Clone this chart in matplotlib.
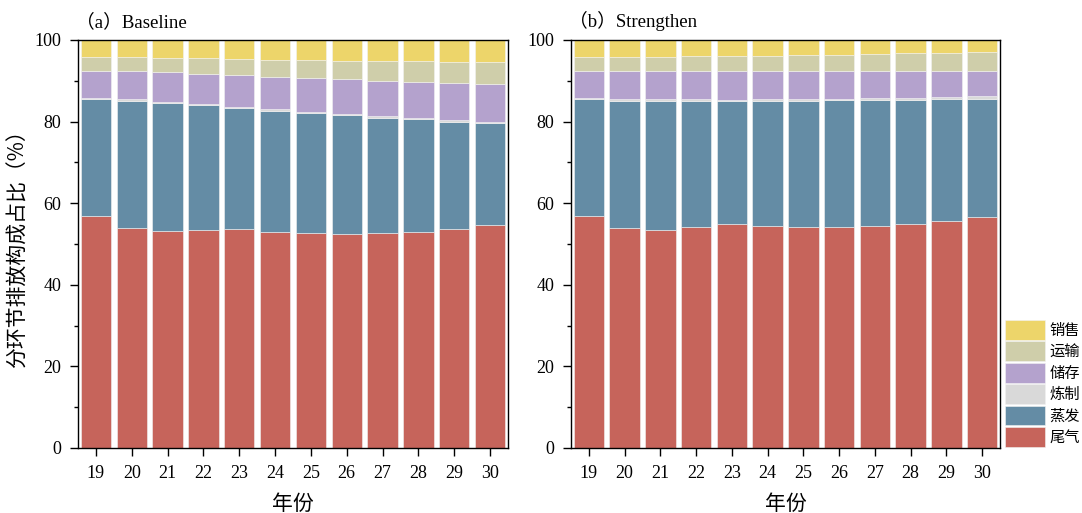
import numpy as np
import matplotlib
matplotlib.use("Agg")
import matplotlib.pyplot as plt
from matplotlib.ticker import MultipleLocator

# ── Data (percent share by stage) ────────────────────────────────
years = [19, 20, 21, 22, 23, 24, 25, 26, 27, 28, 29, 30]
categories = ["尾气", "蒸发", "炼制", "储存", "运输", "销售"]
colors = ["#C6645B", "#648CA5", "#D9D9D9", "#B4A2CD", "#CFCEAA", "#EDD56A"]

base_tail      = [56.9, 54.0, 53.1, 53.4, 53.6, 53.0, 52.6, 52.4, 52.6, 53.0, 53.7, 54.7]
base_evap      = [28.6, 31.1, 31.4, 30.6, 29.7, 29.7, 29.4, 29.1, 28.4, 27.6, 26.3, 24.9]
base_refine    = [0.4, 0.4, 0.4, 0.4, 0.4, 0.4, 0.4, 0.4, 0.4, 0.4, 0.4, 0.4]
base_storage   = [6.6, 6.9, 7.2, 7.3, 7.6, 7.9, 8.3, 8.5, 8.6, 8.8, 9.1, 9.2]
base_transport = [3.3, 3.4, 3.6, 3.8, 4.0, 4.2, 4.3, 4.5, 4.9, 5.0, 5.2, 5.4]
base_sales     = [4.2, 4.2, 4.3, 4.5, 4.7, 4.8, 5.0, 5.1, 5.1, 5.2, 5.3, 5.4]

str_tail      = [56.9, 54.0, 53.4, 54.2, 54.9, 54.5, 54.2, 54.1, 54.4, 54.9, 55.6, 56.7]
str_evap      = [28.6, 31.1, 31.7, 30.9, 30.1, 30.6, 30.9, 31.1, 30.9, 30.5, 29.9, 28.9]
str_refine    = [0.4, 0.4, 0.4, 0.4, 0.4, 0.4, 0.4, 0.4, 0.5, 0.5, 0.6, 0.6]
str_storage   = [6.6, 6.9, 6.9, 6.9, 7.0, 6.9, 6.9, 6.8, 6.6, 6.5, 6.3, 6.1]
str_transport = [3.3, 3.4, 3.4, 3.6, 3.7, 3.8, 3.9, 4.0, 4.2, 4.4, 4.5, 4.7]
str_sales     = [4.2, 4.2, 4.2, 4.0, 3.9, 3.8, 3.7, 3.6, 3.4, 3.2, 3.1, 3.0]

panels = [
    ("（a）Baseline", [base_tail, base_evap, base_refine, base_storage, base_transport, base_sales]),
    ("（b）Strengthen", [str_tail, str_evap, str_refine, str_storage, str_transport, str_sales]),
]

SERIF = ["Liberation Serif", "Noto Sans CJK SC"]
CJK = ["Noto Sans CJK SC", "DejaVu Sans"]

fig = plt.figure(figsize=(10.82, 5.13), dpi=100)
ax_l = fig.add_axes([78 / 1082, 65 / 513, 430 / 1082, 408 / 513])
ax_r = fig.add_axes([571 / 1082, 65 / 513, 429 / 1082, 408 / 513])

handles = []
for ax, (title, series) in zip((ax_l, ax_r), panels):
    bottom = np.zeros(len(years))
    handles = []
    for vals, col, name in zip(series, colors, categories):
        b = ax.bar(years, vals, width=0.85, bottom=bottom, color=col,
                   edgecolor="#f2f2f2", linewidth=0.4, label=name)
        handles.append(b)
        bottom += np.array(vals)

    ax.set_xlim(18.5, 30.5)
    ax.set_ylim(0, 100)
    ax.set_xticks(years)
    ax.set_xticklabels([str(y) for y in years])
    ax.yaxis.set_major_locator(MultipleLocator(20))
    ax.yaxis.set_minor_locator(MultipleLocator(10))
    ax.tick_params(axis="both", which="major", direction="out", length=6,
                   width=1.0, labelsize=13, pad=6)
    ax.tick_params(axis="y", which="minor", direction="out", length=3, width=1.0)
    for lab in ax.get_xticklabels() + ax.get_yticklabels():
        lab.set_family(SERIF)
    for sp in ax.spines.values():
        sp.set_linewidth(1.0)
    ax.text(-0.005, 1.022, title, transform=ax.transAxes, ha="left", va="bottom",
            fontsize=13.5, family=SERIF)
    ax.set_xlabel("年份", family=CJK, fontsize=15, labelpad=8)

ax_l.set_ylabel("分环节排放构成占比（%）", family=CJK, fontsize=15, labelpad=4)

fig.legend(handles[::-1], categories[::-1], loc="lower left",
           bbox_to_anchor=(1002 / 1082, 63 / 513), frameon=False,
           prop={"family": CJK, "size": 11}, handlelength=2.6,
           handleheight=1.6, labelspacing=0.12, handletextpad=0.3,
           borderaxespad=0, borderpad=0.2)

fig.savefig("out.png", dpi=100)
